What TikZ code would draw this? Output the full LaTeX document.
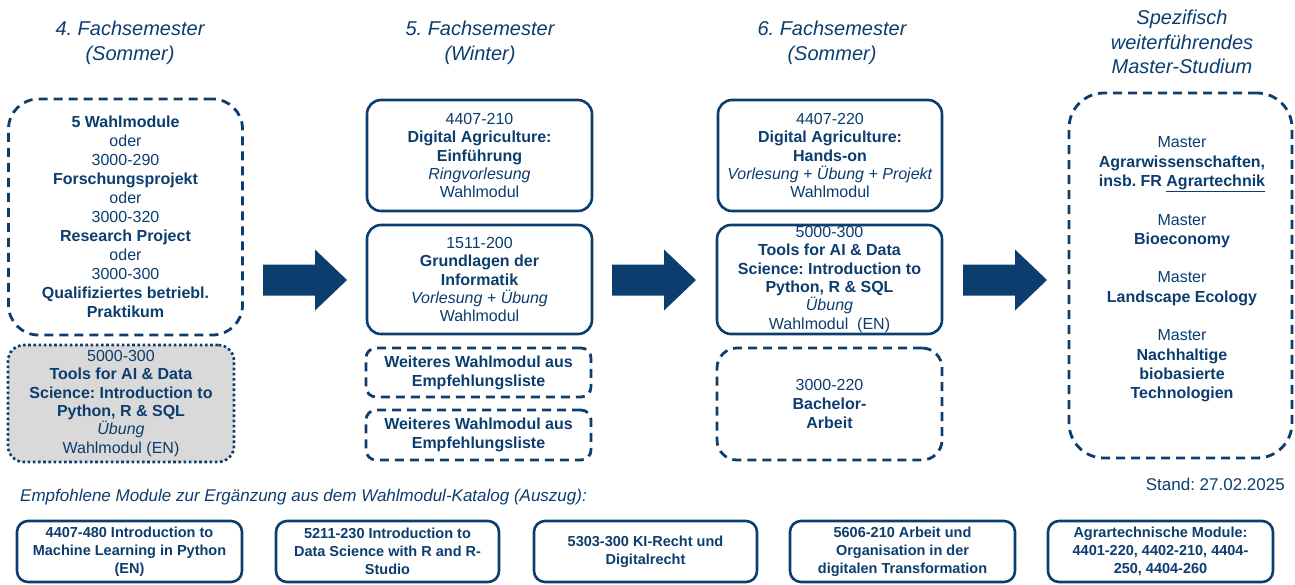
\documentclass[tikz,border=0pt]{standalone}
\usepackage{fontspec}
\setmainfont{Liberation Sans}
\definecolor{db}{HTML}{0B3D6E}
\definecolor{gr}{HTML}{D9D9D9}
\begin{document}
\frenchspacing
\begin{tikzpicture}[x=1pt,y=-1pt,
  every node/.style={text=db, align=center, inner sep=0pt},
  txt/.style={font=\fontsize{16}{19}\selectfont},
  txts/.style={font=\fontsize{16}{18.3}\selectfont},
  head/.style={font=\fontsize{20}{24.5}\selectfont\itshape},
  btxt/.style={font=\fontsize{14.5}{18}\selectfont\bfseries},
  sz/.style 2 args={minimum width=#1, minimum height=#2},
  solidbox/.style={draw=db, line width=2.6pt, rounded corners=14pt},
  dashbox/.style={draw=db, line width=2.8pt, dash pattern=on 9pt off 6pt, rounded corners=#1},
  dashbox/.default=10pt,
  dotbox/.style={draw=db, fill=gr, line width=2.6pt, dash pattern=on 2.6pt off 2.6pt, rounded corners=16pt},
  bottombox/.style={draw=db, line width=2.6pt, rounded corners=11pt, btxt},
  arrowfill/.style={fill=db}
]
\useasboundingbox (0,0) rectangle (1295,584);

% headers
\node[head] (h4) at (130,43) {4. Fachsemester\\(Sommer)};
\node[head] (h5) at (480,43) {5. Fachsemester\\(Winter)};
\node[head] (h6) at (832,43) {6. Fachsemester\\(Sommer)};
\node[head] (hm) at (1182,42) {Spezifisch\\weiterführendes\\Master-Studium};

% column 4. semester
\node[dashbox=30pt, sz={234pt}{236pt}, txt] (l1) at (125.5,217)
  {\textbf{5 Wahlmodule}\\oder\\3000-290\\\textbf{Forschungsprojekt}\\oder\\3000-320\\\textbf{Research Project}\\oder\\3000-300\\\textbf{Qualifiziertes betriebl.}\\\textbf{Praktikum}};
\node[dotbox, sz={226pt}{117pt}, txts] (l2) at (121,403.5)
  {5000-300\\\textbf{Tools for AI \& Data}\\\textbf{Science: Introduction to}\\\textbf{Python, R \& SQL}\\\textit{Übung}\\Wahlmodul (EN)};

% column 5. semester
\node[solidbox, sz={225pt}{111pt}, txts] (c2a) at (479.5,155.5)
  {4407-210\\\textbf{Digital Agriculture:}\\\textbf{Einführung}\\\textit{Ringvorlesung}\\Wahlmodul};
\node[solidbox, sz={225pt}{109pt}, txts] (c2b) at (479.5,279.5)
  {1511-200\\\textbf{Grundlagen der}\\\textbf{Informatik}\\\textit{Vorlesung + Übung}\\Wahlmodul};
\node[dashbox, sz={225pt}{49pt}, txt] (c2c) at (478.5,372.5)
  {\textbf{Weiteres Wahlmodul aus}\\\textbf{Empfehlungsliste}};
\node[dashbox, sz={225pt}{50pt}, txt] (c2d) at (478.5,435)
  {\textbf{Weiteres Wahlmodul aus}\\\textbf{Empfehlungsliste}};

% column 6. semester
\node[solidbox, sz={224pt}{111pt}, txts] (c3a) at (830,155.5)
  {4407-220\\\textbf{Digital Agriculture:}\\\textbf{Hands-on}\\\textit{Vorlesung + Übung + Projekt}\\Wahlmodul};
\node[solidbox, sz={225pt}{109pt}, txts] (c3b) at (829.5,279.5)
  {5000-300\\\textbf{Tools for AI \& Data}\\\textbf{Science: Introduction to}\\\textbf{Python, R \& SQL}\\\textit{Übung}\\Wahlmodul~~(EN)};
\node[dashbox=20pt, sz={225pt}{112pt}, txt] (c3c) at (829.5,404)
  {3000-220\\\textbf{Bachelor-}\\\textbf{Arbeit}};

% master column
\node[dashbox=35pt, sz={223pt}{365pt}] (m) at (1180.5,275.5) {};
\node[font=\fontsize{16}{19.3}\selectfont] (mt) at (1182,269.5)
  {Master\\\textbf{Agrarwissenschaften,}\\\textbf{insb. FR \underline{Agrartechnik}}\\[19.3pt]
   Master\\\textbf{Bioeconomy}\\[19.3pt]
   Master\\\textbf{Landscape Ecology}\\[19.3pt]
   Master\\\textbf{Nachhaltige}\\\textbf{biobasierte}\\\textbf{Technologien}};

\node[anchor=east, font=\fontsize{17}{20}\selectfont] (stand) at (1285,484) {Stand: 27.02.2025};

% block arrows
\newcommand{\blockarrow}[1]{%
  \fill[arrowfill] (#1,264.5) -- ++(52,0) -- ++(0,-15) -- ++(32,30.5) -- ++(-32,30.5) -- ++(0,-15) -- ++(-52,0) -- cycle;}
\blockarrow{263}
\blockarrow{612}
\blockarrow{963}

% bottom
\node[anchor=west, font=\fontsize{17}{20}\selectfont\itshape] (emp) at (20,497)
  {Empfohlene Module zur Ergänzung aus dem Wahlmodul-Katalog (Auszug):};
\node[bottombox, sz={225pt}{61pt}] (b1) at (129.5,551.5)
  {4407-480 Introduction to\\Machine Learning in Python\\(EN)};
\node[bottombox, sz={223pt}{61pt}] (b2) at (387.5,551.5)
  {5211-230 Introduction to\\Data Science with R and R-\\Studio};
\node[bottombox, sz={223pt}{61pt}] (b3) at (645.5,551.5)
  {5303-300 KI-Recht und\\Digitalrecht};
\node[bottombox, sz={225pt}{61pt}] (b4) at (902.5,551.5)
  {5606-210 Arbeit und\\Organisation in der\\digitalen Transformation};
\node[bottombox, sz={225pt}{61pt}] (b5) at (1160.5,551.5)
  {Agrartechnische Module:\\4401-220, 4402-210, 4404-\\250, 4404-260};
\end{tikzpicture}
\end{document}
